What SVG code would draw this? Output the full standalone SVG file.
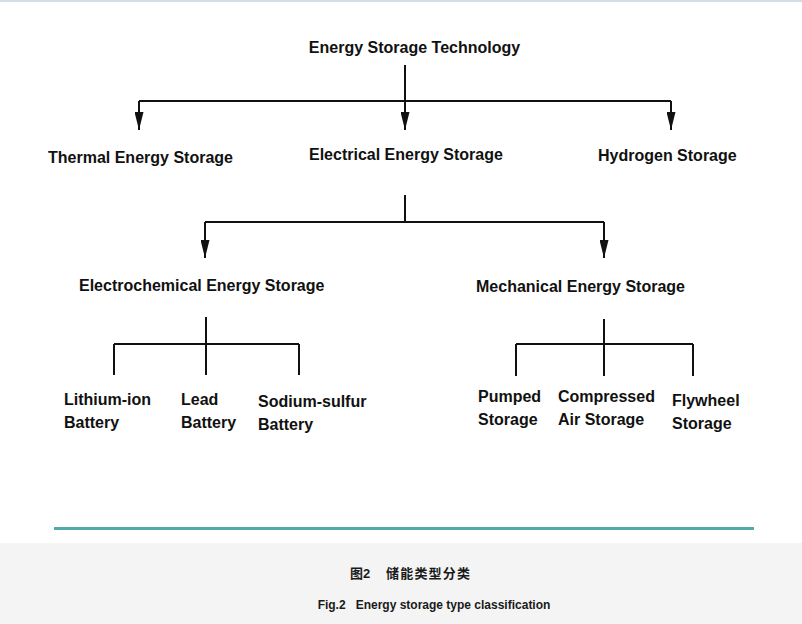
<svg xmlns="http://www.w3.org/2000/svg" width="802" height="624" viewBox="0 0 802 624">
<defs>
<style>
.lbl{font-family:"Liberation Sans",Arial,sans-serif;font-weight:bold;font-size:16px;fill:#111}
.cap{font-family:"Liberation Sans","Noto Sans CJK SC",Arial,sans-serif;font-weight:bold;font-size:12px;fill:#1a1a1a}
.ln{fill:none;stroke:#111;stroke-width:2}
</style>
<marker id="arr" viewBox="0 0 20 10" refX="20" refY="5" markerWidth="20" markerHeight="9" markerUnits="userSpaceOnUse" orient="auto">
<path d="M0,0 L20,5 L0,10 z" fill="#111"/>
</marker>
</defs>
<rect x="0" y="0" width="802" height="624" fill="#fff"/>
<rect x="0" y="0" width="802" height="2" fill="#d5dce8"/>

<g id="connectors">
<path class="ln" d="M405,65 V130" marker-end="url(#arr)"/>
<path class="ln" d="M139,101 H671"/>
<path class="ln" d="M139,101 V130" marker-end="url(#arr)"/>
<path class="ln" d="M671,101 V130" marker-end="url(#arr)"/>
<path class="ln" d="M405,195 V222 M205,222 H604"/>
<path class="ln" d="M205,222 V258" marker-end="url(#arr)"/>
<path class="ln" d="M604,222 V258" marker-end="url(#arr)"/>
<path class="ln" d="M206,317 V375 M114,344 H299 M114,344 V375 M299,344 V375"/>
<path class="ln" d="M604,319 V376 M516,344 H693 M516,344 V376 M693,344 V376"/>
</g>

<g id="root"><text class="lbl" x="414.5" y="53" text-anchor="middle">Energy Storage Technology</text></g>
<g id="thermal"><text class="lbl" x="48" y="163">Thermal Energy Storage</text></g>
<g id="electrical"><text class="lbl" x="309" y="160">Electrical Energy Storage</text></g>
<g id="hydrogen"><text class="lbl" x="598" y="161">Hydrogen Storage</text></g>
<g id="electrochemical"><text class="lbl" x="79" y="291">Electrochemical Energy Storage</text></g>
<g id="mechanical"><text class="lbl" x="476" y="292">Mechanical Energy Storage</text></g>
<g id="lithium"><text class="lbl" x="64" y="405">Lithium-ion</text><text class="lbl" x="64" y="428">Battery</text></g>
<g id="lead"><text class="lbl" x="181" y="405">Lead</text><text class="lbl" x="181" y="428">Battery</text></g>
<g id="sodium"><text class="lbl" x="258" y="407">Sodium-sulfur</text><text class="lbl" x="258" y="430">Battery</text></g>
<g id="pumped"><text class="lbl" x="478" y="402">Pumped</text><text class="lbl" x="478" y="425">Storage</text></g>
<g id="compressed"><text class="lbl" x="558" y="402">Compressed</text><text class="lbl" x="558" y="425">Air Storage</text></g>
<g id="flywheel"><text class="lbl" x="672" y="406">Flywheel</text><text class="lbl" x="672" y="429">Storage</text></g>

<rect x="54" y="527" width="700" height="3" fill="#52aba8"/>
<rect x="0" y="543" width="802" height="81" fill="#f4f4f4"/>
<text class="cap" y="578" style="font-size:13px"><tspan x="350">图2</tspan><tspan x="386" textLength="84" lengthAdjust="spacing">储能类型分类</tspan></text>
<text class="cap" x="434" y="609" text-anchor="middle" xml:space="preserve">Fig.2   Energy storage type classification</text>
</svg>
